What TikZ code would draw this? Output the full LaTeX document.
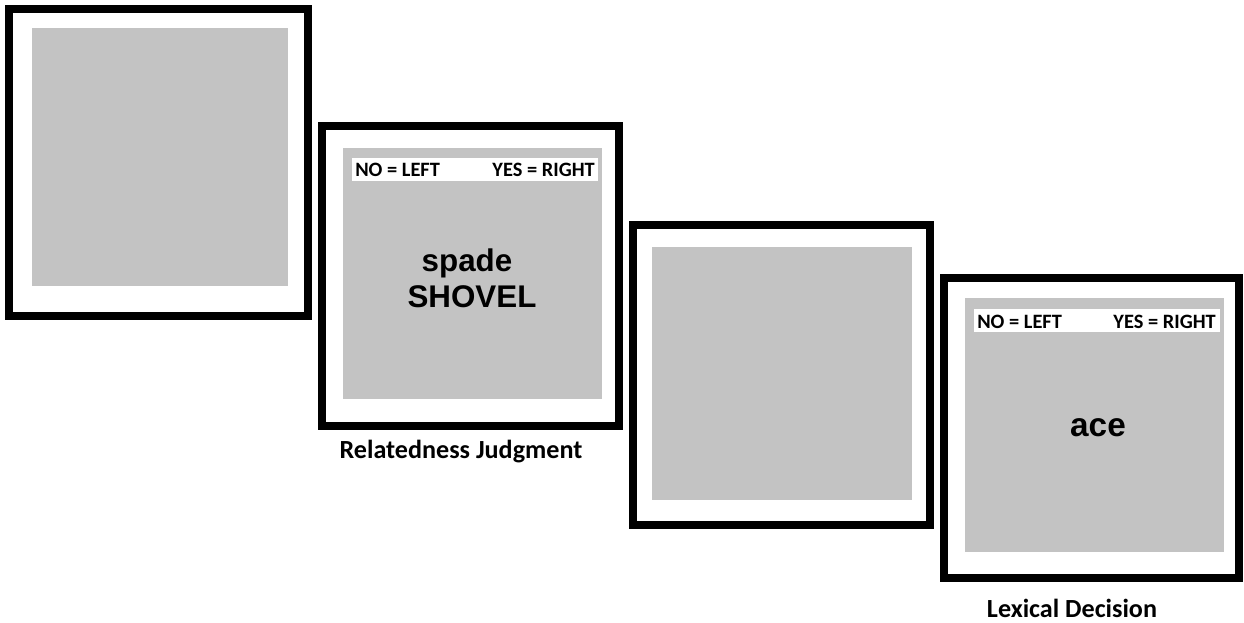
\documentclass[tikz,border=0pt]{standalone}
\usepackage{fontspec}
\setmainfont{Carlito}
\newfontfamily\wordfont{Liberation Sans}
\definecolor{screengray}{RGB}{195,195,195}
\begin{document}
\begin{tikzpicture}[x=0.75pt, y=-0.75pt,
  frame/.style={draw=black, line width=6.3pt, fill=white, inner sep=0pt},
  screen/.style={fill=screengray, inner sep=0pt},
  keybar/.style={fill=white, inner sep=0pt, minimum width=246*0.75pt, minimum height=23*0.75pt},
  key/.style={font=\bfseries\fontsize{15.3}{18}\selectfont, inner sep=0pt},
  word/.style={font=\wordfont\bfseries\fontsize{23.5}{28}\selectfont, inner sep=0pt},
  caption/.style={font=\bfseries\fontsize{19.6}{23}\selectfont, inner sep=0pt}
]
\useasboundingbox (0,0) rectangle (1244,622);
% fixation
\node[frame, minimum width=298.5*0.75pt, minimum height=306.5*0.75pt] (f1) at (158.5,162.5) {};
\node[screen, minimum width=256*0.75pt, minimum height=258*0.75pt] (s1) at (160,157) {};
% relatedness judgment
\node[frame, minimum width=297*0.75pt, minimum height=300*0.75pt] (f2) at (470.5,276) {};
\node[screen, minimum width=259*0.75pt, minimum height=251*0.75pt] (s2) at (472.5,273.5) {};
\node[keybar] (b2) at (474.5,169) {};
\node[key, anchor=west] (no2) at (355,169.5) {NO = LEFT};
\node[key, anchor=east] (yes2) at (595,169.5) {YES = RIGHT};
\node[word] (prime) at (467,263) {spade};
\node[word] (target) at (472,297) {SHOVEL};
\node[caption] (cap2) at (461,452) {Relatedness Judgment};
% blank
\node[frame, minimum width=297*0.75pt, minimum height=300*0.75pt] (f3) at (781.5,375) {};
\node[screen, minimum width=260*0.75pt, minimum height=253*0.75pt] (s3) at (782,373.5) {};
% lexical decision
\node[frame, minimum width=295*0.75pt, minimum height=300*0.75pt] (f4) at (1091.5,428) {};
\node[screen, minimum width=259*0.75pt, minimum height=254*0.75pt] (s4) at (1094.5,425) {};
\node[keybar] (b4) at (1096.5,320) {};
\node[key, anchor=west] (no4) at (977,321.5) {NO = LEFT};
\node[key, anchor=east] (yes4) at (1216,321.5) {YES = RIGHT};
\node[word, font=\wordfont\bfseries\fontsize{25}{30}\selectfont] (probe) at (1098,428) {ace};
\node[caption] (cap4) at (1072,608.5) {Lexical Decision};
\end{tikzpicture}
\end{document}
